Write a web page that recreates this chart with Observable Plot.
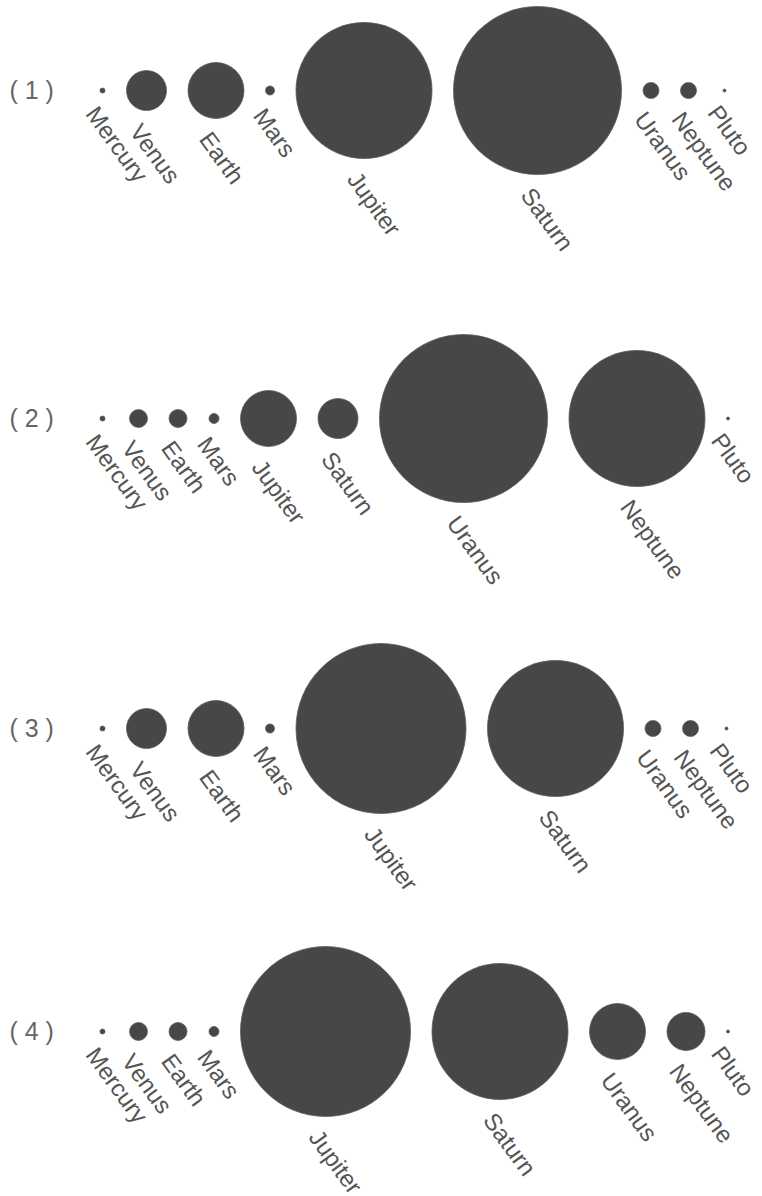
<!DOCTYPE html>
<html><head><meta charset="utf-8">
<script src="https://cdn.jsdelivr.net/npm/d3@7"></script>
<script src="https://cdn.jsdelivr.net/npm/@observablehq/plot@0.6"></script>
<style>
html,body{margin:0;padding:0;background:#fff}
#chart svg{display:block;overflow:visible;position:relative}
</style>
</head><body><div id="chart"></div>
<script>
// ---- data ----
const planets = ["Mercury", "Venus", "Earth", "Mars", "Jupiter", "Saturn", "Uranus", "Neptune", "Pluto"];
const rowLabels = ["( 1 )", "( 2 )", "( 3 )", "( 4 )"];
// relative circle size (radius units)
const sizes1 = [2.5, 20, 28, 4.5, 68, 84, 8, 8, 1.5];
const sizes2 = [2.5, 9, 9, 5, 28, 20, 84, 68, 1.5];
const sizes3 = [2.5, 20, 28, 4.5, 85, 68, 8, 8, 1.5];
const sizes4 = [2.5, 9, 9, 5, 85, 68, 28, 19, 1.5];

// ---- layout (not data) ----
const W = 762;
const panels = [
  {sizes: sizes1, height: 254, top: 90},
  {sizes: sizes2, height: 319, top: 164},
  {sizes: sizes3, height: 307, top: 155},
  {sizes: sizes4, height: 316, top: 151}
];
const startX = 102, gap = 21.5, minStep = 36;
const labelGap = 11, labelShift = -4;

function pack(sizes) {
  const xs = [startX];
  for (let i = 1; i < sizes.length; i++) {
    xs.push(xs[i - 1] + Math.max(sizes[i - 1] + sizes[i] + gap, minStep));
  }
  return xs;
}

const chart = document.getElementById("chart");
panels.forEach((p, k) => {
  const xs = pack(p.sizes);
  const rows = planets.map((name, i) => ({name, size: p.sizes[i], pos: xs[i]}));
  const svg = Plot.plot({
    width: W,
    height: p.height,
    margin: 0,
    x: {type: "linear", domain: [0, W], range: [0, W], axis: null},
    y: {type: "linear", domain: [-p.top, p.height - p.top], range: [0, p.height], axis: null},
    r: {type: "linear", domain: [0, 85], range: [0, 85]},
    style: {fontFamily: "'Liberation Sans', Arial, Helvetica, sans-serif", background: "transparent", overflow: "visible"},
    marks: [
      Plot.dot(rows, {x: "pos", y: () => 0, r: "size", fill: "#474747", stroke: "#5a5a5a", strokeWidth: 0.8}),
      Plot.text(rows, {
        x: d => d.pos + labelShift,
        y: d => d.size + labelGap,
        text: "name",
        rotate: 54,
        textAnchor: "start",
        lineAnchor: "top",
        fontSize: 24,
        fill: "#555"
      }),
      Plot.text([rowLabels[k]], {
        frameAnchor: "left",
        y: () => 0,
        dx: 9,
        text: d => d,
        textAnchor: "start",
        lineAnchor: "middle",
        fontSize: 25,
        fill: "#666"
      })
    ]
  });
  chart.appendChild(svg);
});
</script>
</body></html>
